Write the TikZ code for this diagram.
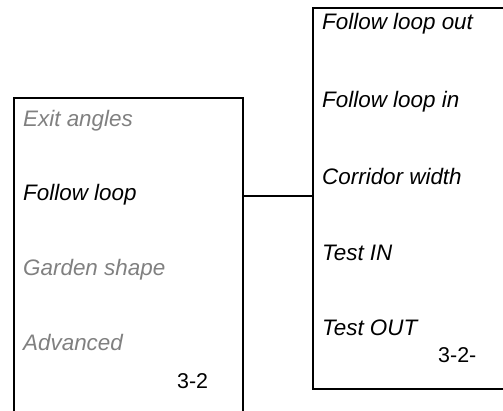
\documentclass[tikz,border=0pt]{standalone}
\usepackage{fontspec}
\setmainfont{Liberation Sans}
\definecolor{dimgray}{RGB}{128,128,128}
\begin{document}
\begin{tikzpicture}[x=1bp,y=-1bp,
  box/.style={draw=black, line width=2bp, rectangle, inner sep=0pt, anchor=north west},
  conn/.style={draw=black, line width=2bp},
  item/.style={anchor=base west, inner sep=0pt, font=\fontsize{22.5}{25}\selectfont\itshape},
  active/.style={item, text=black},
  inactive/.style={item, text=dimgray},
  pagenum/.style={anchor=base west, inner sep=0pt, font=\fontsize{21.5}{24}\selectfont}]
\useasboundingbox (0,0) rectangle (503,410);
\clip (0,0) rectangle (503,410);
\node[box, minimum width=229bp, minimum height=400bp] (L) at (13,97) {};
\node[box, minimum width=300bp, minimum height=381bp] (R) at (312,7) {};
\coordinate (jy) at (0,196);
\draw[conn] (L.east |- jy) -- (R.west |- jy);
% left menu
\node[inactive] (l1) at (23,126) {Exit angles};
\node[active]   (l2) at (23,200) {Follow loop};
\node[inactive] (l3) at (23,275) {Garden shape};
\node[inactive] (l4) at (23,350) {Advanced};
\node[pagenum]  (l5) at (177,388) {3-2};
% right menu
\node[active] (r1) at (322,29)  {Follow loop out};
\node[active] (r2) at (322,107) {Follow loop in};
\node[active] (r3) at (322,184) {Corridor width};
\node[active] (r4) at (322,260) {Test IN};
\node[active] (r5) at (322,335) {Test OUT};
\node[pagenum] (r6) at (438,362) {3-2-};
\end{tikzpicture}
\end{document}
